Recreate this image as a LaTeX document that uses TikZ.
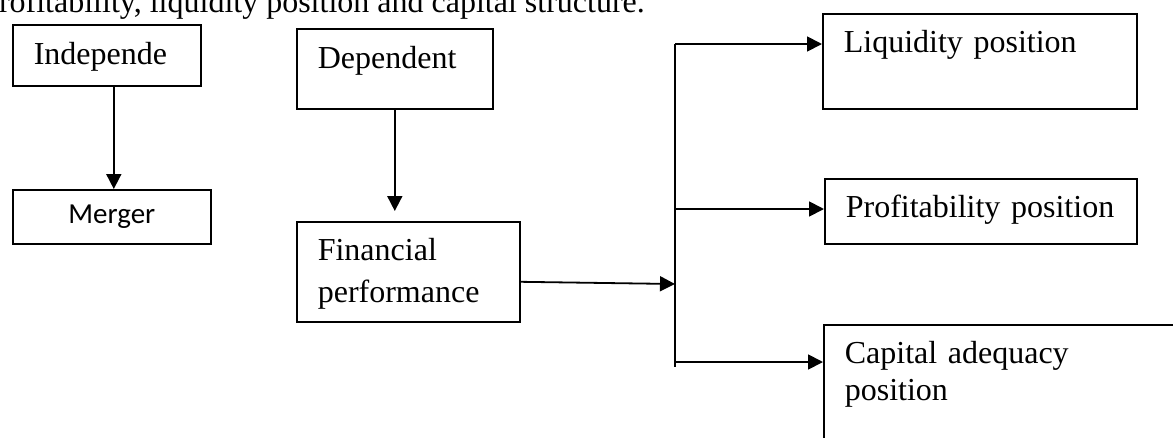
\documentclass[tikz,border=0pt]{standalone}
\usepackage{fontspec}
\setmainfont{Liberation Serif}
\newfontfamily\calibfont{Carlito}
\usetikzlibrary{arrows.meta}

\begin{document}
\begin{tikzpicture}[x=1pt,y=-1pt,
  box/.style={draw,line width=1.6pt,anchor=north west,inner xsep=21pt,inner ysep=0pt,align=left,font=\fontsize{32}{42}\selectfont},
  arr/.style={line width=1.8pt,-{Triangle[length=15pt,width=15pt]}}]
\clip (0,0) rectangle (1173,437);
\node[anchor=base east,inner sep=0pt,font=\fontsize{32}{38}\selectfont] (caption) at (645,12) {profitability, liquidity position and capital structure.};
% left column
\node[box,text width=146pt,text height=40pt,text depth=21pt] (indep) at (12,24) {Independe};
\node[box,align=center,inner sep=0pt,minimum width=198pt,minimum height=54pt,font=\calibfont\fontsize{29}{34}\selectfont] (merger) at (12,189) {Merger};
% middle column
\node[box,text width=154pt,text height=40pt,text depth=40pt] (dep) at (296,28) {Dependent};
\node[box,text width=181pt,text height=39pt,text depth=61pt] (fin) at (296,221) {Financial\\performance};
% right column
\node[box,text width=272pt,text height=39pt,text depth=56pt] (liq) at (822,13) {Liquidity position};
\node[box,text width=270pt,text height=39pt,text depth=26pt] (prof) at (824,178) {Profitability position};
\node[box,text width=378pt,text height=39pt,text depth=150pt,font=\fontsize{32}{37}\selectfont] (cap) at (823,324) {Capital adequacy\\position};
% connectors
\coordinate (t1) at (675,44);
\coordinate (t2) at (675,209);
\coordinate (t3) at (675,362);
\coordinate (tmid) at (675,284);
\coordinate (tend) at (675,367);
\draw[arr] ([xshift=7pt]indep.south) -- ([xshift=2pt]merger.north);
\draw[arr] (dep.south) -- ([yshift=10pt]dep.south |- fin.north);
\draw[arr] ([yshift=-10pt]fin.east) -- (tmid);
\draw[line width=1.8pt] (t1) -- (tend);
\foreach \c/\b in {t1/liq,t2/prof,t3/cap}
  \draw[arr] (\c) -- (\c -| \b.west);
\end{tikzpicture}
\end{document}
